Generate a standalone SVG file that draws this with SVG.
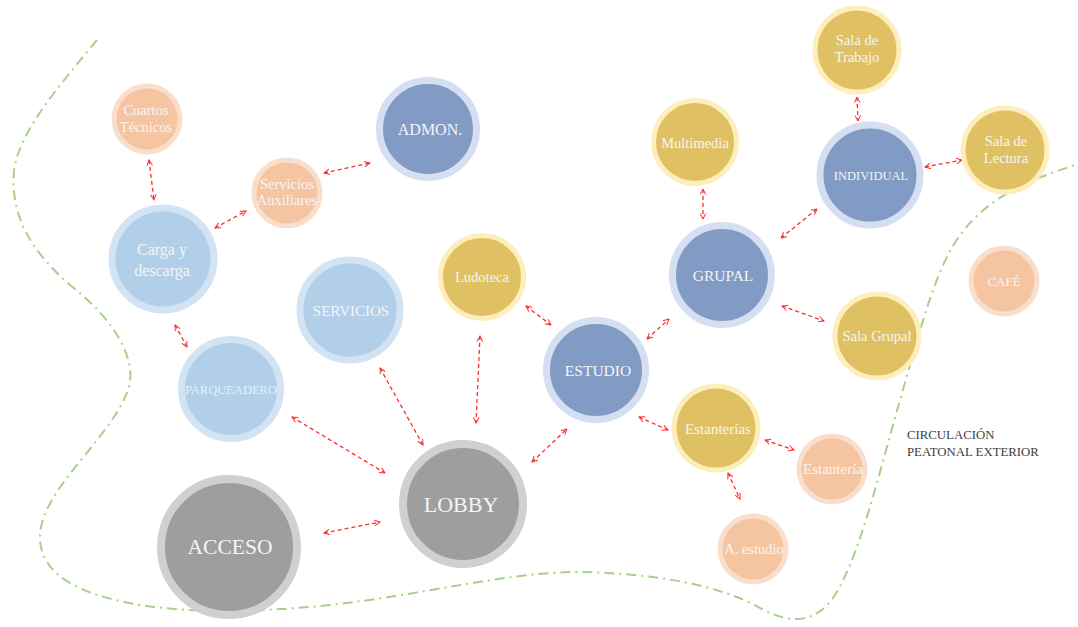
<svg xmlns="http://www.w3.org/2000/svg" width="1078" height="627" viewBox="0 0 1078 627">
<defs>
<marker id="ah" viewBox="0 0 10 10" refX="9" refY="5" markerWidth="7" markerHeight="7" orient="auto-start-reverse" markerUnits="userSpaceOnUse">
<path d="M1,1 L9,5 L1,9" fill="none" stroke="#FF2B2B" stroke-width="1.4"/>
</marker>
<style>
.or{fill:#F5C5A1;stroke:#F9DECB;stroke-width:5}
.lb{fill:#B1CFE9;stroke:#D2E4F4;stroke-width:7}
.db{fill:#819BC5;stroke:#D5DFF1;stroke-width:7}
.gd{fill:#DFC164;stroke:#FDEEBC;stroke-width:5}
.gr{fill:#9E9E9E;stroke:#D0D0D0;stroke-width:8}
text{font-family:"Liberation Serif","DejaVu Serif",serif;fill:#F5F5F5;text-anchor:middle}
.s{font-size:14.5px}
.c line{stroke:#FF2B2B;stroke-width:1.3;stroke-dasharray:4 3;marker-start:url(#ah);marker-end:url(#ah)}
</style>
</defs>
<rect width="1078" height="627" fill="#FFFFFF"/>
<path d="M97,40 C60,85 20,130 14,170 C10,215 30,250 70,285 C115,320 138,360 128,390 C110,440 40,490 40,537 C40,575 80,595 140,605 C200,614 260,612 330,605 C420,595 500,574 570,572 C650,572 720,585 760,608 C790,624 815,625 835,595 C860,555 880,470 900,400 C920,330 935,270 960,235 C990,195 1030,180 1075,165" fill="none" stroke="#A8D08D" stroke-width="2" stroke-dasharray="10 5 2 5"/>
<g class="c" id="connectors">
<line x1="149" y1="160" x2="154" y2="200"/>
<line x1="215" y1="228" x2="246" y2="211"/>
<line x1="324" y1="173" x2="370" y2="163"/>
<line x1="175" y1="325" x2="187" y2="347"/>
<line x1="292" y1="417" x2="385" y2="473"/>
<line x1="380" y1="368" x2="423" y2="445"/>
<line x1="324" y1="533" x2="380" y2="522"/>
<line x1="480" y1="336" x2="476" y2="423"/>
<line x1="526" y1="306" x2="551" y2="325"/>
<line x1="532" y1="462" x2="567" y2="429"/>
<line x1="647" y1="339" x2="669" y2="319"/>
<line x1="639" y1="417" x2="668" y2="430"/>
<line x1="703" y1="189" x2="703" y2="219"/>
<line x1="781" y1="238" x2="817" y2="209"/>
<line x1="782" y1="306" x2="824" y2="321"/>
<line x1="857" y1="97" x2="858" y2="121"/>
<line x1="925" y1="167" x2="962" y2="160"/>
<line x1="765" y1="440" x2="794" y2="450"/>
<line x1="728" y1="473" x2="740" y2="499"/>
</g>
<g id="cuartos"><circle class="or" cx="147" cy="119" r="33"/><text class="s" x="146" y="115">Cuartos</text><text class="s" x="146" y="132">Técnicos</text></g>
<g id="servaux"><circle class="or" cx="287" cy="193" r="33"/><text class="s" x="287" y="189">Servicios</text><text class="s" x="287" y="205">Auxiliares</text></g>
<g id="admon"><circle class="db" cx="428" cy="129" r="48.5"/><text x="430" y="135" font-size="16">ADMON.</text></g>
<g id="carga"><circle class="lb" cx="163" cy="259" r="51"/><text x="162" y="255" font-size="16">Carga y</text><text x="162" y="276" font-size="16">descarga</text></g>
<g id="servicios"><circle class="lb" cx="350" cy="310" r="50"/><text x="351" y="316" font-size="15">SERVICIOS</text></g>
<g id="parqueadero"><circle class="lb" cx="231" cy="389" r="49.5"/><text x="231" y="394" font-size="12.5" style="fill:#E6EEF7">PARQUEADERO</text></g>
<g id="acceso"><circle class="gr" cx="229" cy="547" r="68"/><text x="230" y="554" font-size="21.5">ACCESO</text></g>
<g id="lobby"><circle class="gr" cx="463" cy="504" r="60"/><text x="461" y="512" font-size="22">LOBBY</text></g>
<g id="ludoteca"><circle class="gd" cx="482" cy="277" r="41.5"/><text class="s" x="482" y="282">Ludoteca</text></g>
<g id="estudio"><circle class="db" cx="596" cy="370" r="49.5"/><text x="598" y="376" font-size="15.5">ESTUDIO</text></g>
<g id="grupal"><circle class="db" cx="722" cy="275" r="49.5"/><text x="723" y="281" font-size="15.5">GRUPAL</text></g>
<g id="multimedia"><circle class="gd" cx="695" cy="142" r="41.5"/><text class="s" x="695" y="148">Multimedia</text></g>
<g id="individual"><circle class="db" cx="870" cy="175" r="50"/><text x="871" y="180" font-size="12.5">INDIVIDUAL</text></g>
<g id="trabajo"><circle class="gd" cx="857" cy="50" r="42"/><text class="s" x="857" y="45">Sala de</text><text class="s" x="857" y="62">Trabajo</text></g>
<g id="lectura"><circle class="gd" cx="1005" cy="150" r="42"/><text class="s" x="1006" y="146">Sala de</text><text class="s" x="1006" y="163">Lectura</text></g>
<g id="cafe"><circle class="or" cx="1004" cy="281" r="33"/><text x="1004" y="286" font-size="13">CAFÉ</text></g>
<g id="salagrupal"><circle class="gd" cx="877" cy="336" r="42"/><text class="s" x="877" y="341">Sala Grupal</text></g>
<g id="estanterias"><circle class="gd" cx="716" cy="428" r="42"/><text x="718" y="434" font-size="15">Estanterías</text></g>
<g id="estanteria"><circle class="or" cx="832" cy="469" r="33"/><text x="833" y="474" font-size="15">Estantería</text></g>
<g id="aestudio"><circle class="or" cx="753" cy="549" r="33"/><text class="s" x="754" y="554">A. estudio</text></g>
<g id="label"><text x="907" y="439" font-size="12.8" style="fill:#404040;text-anchor:start">CIRCULACIÓN</text><text x="907" y="456" font-size="12.8" style="fill:#404040;text-anchor:start">PEATONAL EXTERIOR</text></g>
</svg>
